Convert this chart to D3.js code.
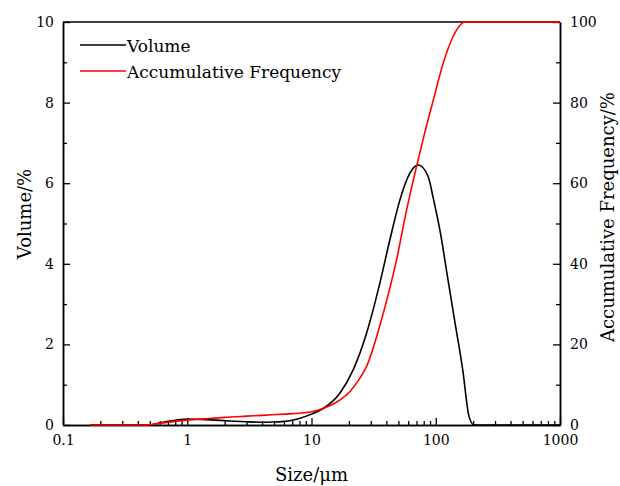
<!DOCTYPE html>
<html>
<head>
<meta charset="utf-8">
<script src="https://cdn.jsdelivr.net/npm/d3@7"></script>
<style>
    body { margin: 0; background: #fff; }
</style>
</head>
<body>
<div id="chart"></div>
<script>
// particle size (um) and volume %
let volSize = [0.165, 0.5, 0.6, 0.7, 0.85, 1, 1.3, 1.7, 2.2, 3, 3.8, 5, 6, 7, 8.07, 10, 12.4, 16.9, 21.6, 27.7, 35.5, 42.7, 51.4, 61.9, 72.3, 87, 95, 110, 123, 140, 165, 185, 203, 1000]
let volValue = [0, 0, 0.05, 0.09, 0.13, 0.15, 0.14, 0.12, 0.1, 0.08, 0.07, 0.075, 0.09, 0.12, 0.17, 0.27, 0.41, 0.79, 1.36, 2.27, 3.52, 4.59, 5.58, 6.25, 6.45, 6.16, 5.66, 4.7, 3.77, 2.7, 1.36, 0.22, 0, 0]

// accumulative frequency %
let accSize = [0.165, 0.45, 0.6, 0.8, 1, 1.5, 2, 3, 4, 6, 8.07, 10, 12.4, 16, 20.4, 24, 27.7, 37.8, 48.3, 58.2, 70, 80, 95.3, 114.6, 138, 155, 171, 1000]
let accValue = [0, 0, 0.4, 0.9, 1.2, 1.6, 1.9, 2.2, 2.4, 2.7, 2.9, 3.3, 4.1, 5.7, 8.3, 11.2, 14.5, 27.7, 40.9, 53.3, 64.1, 71.5, 80.5, 89.7, 96.4, 99, 100, 100]

let xTicks = [0.1, 1, 10, 100, 1000]
let leftTicks = [0, 2, 4, 6, 8, 10]
let rightTicks = [0, 20, 40, 60, 80, 100]
let legendNames = ["Volume", "Accumulative Frequency"]

let serif = "DejaVu Serif"

let width = 620, height = 486
let margin = {top: 22, right: 60, bottom: 61, left: 63}

let svg = d3.select("#chart").append("svg")
    .attr("width", width)
    .attr("height", height)
    .attr("font-family", serif)

let x = d3.scaleLog().domain([0.1, 1000]).range([margin.left, width - margin.right])
let yL = d3.scaleLinear().domain([0, 10]).range([height - margin.bottom, margin.top])
let yR = d3.scaleLinear().domain([0, 100]).range([height - margin.bottom, margin.top])

// minor ticks
let xMinor = []
for (let p = -1; p < 3; p++) {
    for (let m = 2; m <= 9; m++) xMinor.push(m * Math.pow(10, p))
}
let leftMinor = [1, 3, 5, 7, 9]
let rightMinor = [10, 30, 50, 70, 90]

let fmtX = d => d < 1 ? "0.1" : String(d)

function styleAxis(g) {
    g.attr("font-family", serif).attr("font-size", 14)
    g.select(".domain").attr("stroke-width", 1.5)
    g.selectAll(".tick line").attr("stroke-width", 1.3)
    g.selectAll(".tick text").attr("fill", "#000")
}

let bottom = height - margin.bottom

svg.append("g")
    .attr("transform", `translate(0,${bottom})`)
    .call(d3.axisBottom(x).tickValues(xMinor).tickSize(-4).tickFormat("").tickSizeOuter(0))
    .call(styleAxis)
svg.append("g")
    .attr("transform", `translate(0,${bottom})`)
    .call(d3.axisBottom(x).tickValues(xTicks).tickSize(-7).tickPadding(10).tickFormat(fmtX).tickSizeOuter(0))
    .call(styleAxis)

svg.append("g")
    .attr("transform", `translate(${margin.left},0)`)
    .call(d3.axisLeft(yL).tickValues(leftMinor).tickSize(-4).tickFormat("").tickSizeOuter(0))
    .call(styleAxis)
svg.append("g")
    .attr("transform", `translate(${margin.left},0)`)
    .call(d3.axisLeft(yL).tickValues(leftTicks).tickSize(-7).tickPadding(9).tickSizeOuter(0))
    .call(styleAxis)

let rightX = width - margin.right
svg.append("g")
    .attr("transform", `translate(${rightX},0)`)
    .call(d3.axisRight(yR).tickValues(rightMinor).tickSize(-4).tickFormat("").tickSizeOuter(0))
    .call(styleAxis)
svg.append("g")
    .attr("transform", `translate(${rightX},0)`)
    .call(d3.axisRight(yR).tickValues(rightTicks).tickSize(-7).tickPadding(10).tickSizeOuter(0))
    .call(styleAxis)

// top border
svg.append("line")
    .attr("x1", margin.left).attr("x2", rightX)
    .attr("y1", margin.top).attr("y2", margin.top)
    .attr("stroke", "#000").attr("stroke-width", 1.5)

// curves
let volLine = d3.line()
    .x((d, i) => x(volSize[i]))
    .y(d => yL(d))
    .curve(d3.curveMonotoneX)

let accLine = d3.line()
    .x((d, i) => x(accSize[i]))
    .y(d => yR(d))
    .curve(d3.curveMonotoneX)

svg.append("path")
    .attr("d", volLine(volValue))
    .attr("fill", "none")
    .attr("stroke", "#000")
    .attr("stroke-width", 1.6)

svg.append("path")
    .attr("d", accLine(accValue))
    .attr("fill", "none")
    .attr("stroke", "#ff0000")
    .attr("stroke-width", 1.6)

// legend
let legend = svg.append("g").attr("class", "legend")
let legendColors = ["#000", "#ff0000"]
legendNames.forEach((name, i) => {
    let ly = 45 + i * 26
    legend.append("line")
        .attr("x1", 80).attr("x2", 126)
        .attr("y1", ly).attr("y2", ly)
        .attr("stroke", legendColors[i]).attr("stroke-width", 1.6)
    legend.append("text")
        .attr("x", 127).attr("y", ly + 7)
        .attr("font-size", 17)
        .text(name)
})

// axis titles
svg.append("text")
    .attr("x", (margin.left + rightX) / 2)
    .attr("y", 481)
    .attr("text-anchor", "middle")
    .attr("font-size", 18)
    .text("Size/μm")

svg.append("text")
    .attr("transform", `translate(31, 214) rotate(-90)`)
    .attr("text-anchor", "middle")
    .attr("font-size", 18)
    .text("Volume/%")

svg.append("text")
    .attr("transform", `translate(614, 217) rotate(-90)`)
    .attr("text-anchor", "middle")
    .attr("font-size", 18)
    .text("Accumulative Frequency/%")
</script>
</body>
</html>
